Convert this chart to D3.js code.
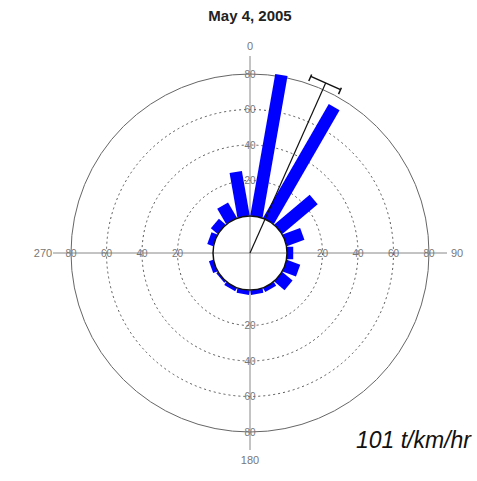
<!DOCTYPE html>
<html>
<head>
<meta charset="utf-8">
<script src="https://cdn.jsdelivr.net/npm/d3@7"></script>
<style>
  html, body { margin: 0; padding: 0; background: #fff; }
  svg { display: block; }
  text { font-family: "Liberation Sans", Arial, sans-serif; }
</style>
</head>
<body>
<svg id="chart" width="477" height="481"></svg>
<script>
// ---- data ----
const title = "May 4, 2005";
const directions = [10, 30, 50, 70, 90, 110, 130, 150, 170, 190, 210, 230, 250, 270, 290, 310, 330, 350];
const values     = [81, 74, 26, 10.5, 3.5, 8, 7.5, 2.5, 2.5, 2.5, 2, 1, 2.5, 0, 3.5, 5, 10, 25.5];
const ringTicks = [20, 40, 60, 80];
const compassLabels = ["0", "90", "180", "270"];
const compassAngles = [0, 90, 180, 270];
const meanDirection = 24;
const meanValue = 84;
const meanAngularError = 5;
const footnote = "101 t/km/hr";

// ---- layout ----
const svg = d3.select("#chart");
const cx = 250, cy = 253;
const r = d3.scaleLinear().domain([0, 80]).range([37, 179]);
const axisExtent = 197;
const labelRadius = 207;
const barWidth = 12.5;
const rad = a => (a - 90) * Math.PI / 180;
const px = (a, rr) => cx + rr * Math.cos(rad(a));
const py = (a, rr) => cy + rr * Math.sin(rad(a));

const g = svg.append("g");

// title
svg.append("text").attr("x", 250).attr("y", 21).attr("text-anchor", "middle")
  .attr("font-size", 15).attr("font-weight", "bold").attr("fill", "#222").text(title);

// rings
g.selectAll("circle.ring").data(ringTicks).enter().append("circle")
  .attr("cx", cx).attr("cy", cy).attr("r", d => r(d))
  .attr("fill", "none")
  .attr("stroke", d => d === 80 ? "#666" : "#555")
  .attr("stroke-width", 1)
  .attr("stroke-dasharray", d => d === 80 ? null : "2,3");

// axes
g.append("line").attr("x1", cx).attr("x2", cx).attr("y1", cy - axisExtent).attr("y2", cy + axisExtent)
  .attr("stroke", "#888").attr("stroke-width", 1);
g.append("line").attr("x1", cx - axisExtent).attr("x2", cx + axisExtent).attr("y1", cy).attr("y2", cy)
  .attr("stroke", "#888").attr("stroke-width", 1);

// axis value labels
const labelData = [];
[0, 90, 180, 270].forEach(a => ringTicks.forEach(v => labelData.push({a, v})));
g.selectAll("text.tick").data(labelData).enter().append("text")
  .attr("x", d => px(d.a, r(d.v)))
  .attr("y", d => py(d.a, r(d.v)))
  .attr("dy", "0.35em")
  .attr("text-anchor", "middle")
  .attr("font-size", 10).attr("fill", "#777")
  .text(d => d.v);

// compass labels
g.selectAll("text.compass").data(compassAngles).enter().append("text")
  .attr("x", d => px(d, labelRadius))
  .attr("y", d => py(d, labelRadius))
  .attr("dy", "0.35em")
  .attr("text-anchor", "middle")
  .attr("font-size", 11).attr("fill", "#777")
  .text((d, i) => compassLabels[i]);

// bars
const bars = directions.map((d, i) => ({dir: d, v: values[i]})).filter(d => d.v > 0);
g.selectAll("rect.bar").data(bars).enter().append("rect")
  .attr("transform", d => `translate(${cx},${cy}) rotate(${d.dir})`)
  .attr("x", -barWidth / 2)
  .attr("y", d => -r(d.v))
  .attr("width", barWidth)
  .attr("height", d => r(d.v) - r(0))
  .attr("fill", "#0000ff");

// hole
g.append("circle").attr("cx", cx).attr("cy", cy).attr("r", r(0))
  .attr("fill", "none").attr("stroke", "#111").attr("stroke-width", 1.5);

// mean vector with error bar
const mLen = r(meanValue);
const mg = g.append("g").attr("transform", `translate(${cx},${cy}) rotate(${meanDirection})`);
mg.append("line").attr("x1", 0).attr("y1", 0).attr("x2", 0).attr("y2", -mLen)
  .attr("stroke", "#111").attr("stroke-width", 1.2);
const half = mLen * Math.tan(meanAngularError * Math.PI / 180);
mg.append("line").attr("x1", -half).attr("x2", half).attr("y1", -mLen).attr("y2", -mLen)
  .attr("stroke", "#111").attr("stroke-width", 1.5);
[-half, half].forEach(x => {
  mg.append("line").attr("x1", x).attr("x2", x).attr("y1", -mLen - 2).attr("y2", -mLen + 5)
    .attr("stroke", "#111").attr("stroke-width", 1.5);
});

// footnote
svg.append("text").attr("x", 471).attr("y", 448).attr("text-anchor", "end")
  .attr("font-size", 23).attr("font-style", "italic").attr("fill", "#111").text(footnote);
</script>
</body>
</html>
